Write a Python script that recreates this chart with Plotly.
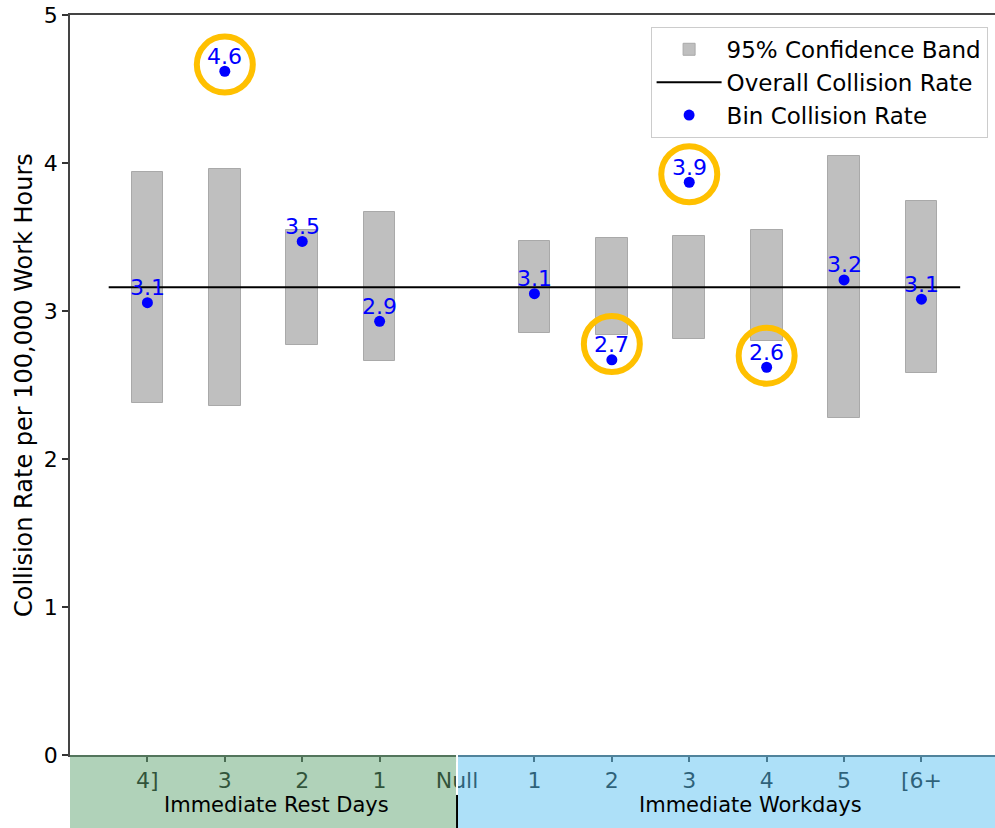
import plotly.graph_objects as go

# ---- data ----
categories = ["4]", "3", "2", "1", "Null", "1", "2", "3", "4", "5", "[6+"]
ci_lower = [2.38, 2.36, 2.77, 2.66, None, 2.85, 2.84, 2.81, 2.80, 2.28, 2.58]
ci_upper = [3.94, 3.96, 3.55, 3.67, None, 3.47, 3.49, 3.51, 3.55, 4.05, 3.74]
bin_rate = [3.056, 4.62, 3.47, 2.93, None, 3.117, 2.67, 3.87, 2.62, 3.21, 3.08]
overall_rate = 3.16
highlight_idx = [1, 6, 7, 8]
highlight_center = [4.665, 2.777, 3.924, 2.698]
group_labels = ["Immediate Rest Days", "Immediate Workdays"]
group_label_pos = [1.67, 7.79]
null_index = 4
y_ticks = [0, 1, 2, 3, 4, 5]

FONT = "DejaVu Sans"
xs = list(range(len(categories)))
valid = [i for i in xs if bin_rate[i] is not None]

fig = go.Figure()

# confidence bands
fig.add_trace(go.Bar(
    x=[xs[i] for i in valid],
    y=[ci_upper[i] - ci_lower[i] for i in valid],
    base=[ci_lower[i] for i in valid],
    width=0.41,
    marker=dict(color="#bfbfbf", line=dict(color="#a9a9a9", width=1)),
    name="95% Confidence Band",
    hoverinfo="skip",
))

# highlight circles
fig.add_trace(go.Scatter(
    x=highlight_idx, y=highlight_center, mode="markers",
    marker=dict(symbol="circle-open", size=56, color="#FFC000",
                line=dict(width=6, color="#FFC000")),
    showlegend=False, hoverinfo="skip",
))

# overall line
fig.add_trace(go.Scatter(
    x=[xs[0] - 0.5, xs[-1] + 0.5], y=[overall_rate, overall_rate],
    mode="lines", line=dict(color="black", width=2),
    name="Overall Collision Rate",
))

# bin points
fig.add_trace(go.Scatter(
    x=[xs[i] for i in valid], y=[bin_rate[i] for i in valid],
    mode="markers", marker=dict(color="blue", size=11),
    name="Bin Collision Rate",
))

annotations = []
for i in valid:
    annotations.append(dict(
        x=xs[i], y=bin_rate[i], xref="x", yref="y", yshift=15,
        text=f"{bin_rate[i]:.1f}", showarrow=False,
        font=dict(family=FONT, size=22, color="blue"),
    ))

# y title
annotations.append(dict(
    x=-0.0497, y=0.5, xref="paper", yref="paper", textangle=-90,
    text="Collision Rate per 100,000 Work Hours", showarrow=False,
    xanchor="center", yanchor="middle",
    font=dict(family=FONT, size=24, color="black"),
))

# group labels
for lab, pos in zip(group_labels, group_label_pos):
    annotations.append(dict(
        x=pos, y=-0.0676, xref="x", yref="paper", text=lab, showarrow=False,
        xanchor="center", yanchor="middle",
        font=dict(family=FONT, size=21, color="black"),
    ))

xmin, xmax = -1.0, 10.95


def px(v):
    return (v - xmin) / (xmax - xmin)


shapes = [
    dict(type="rect", xref="paper", yref="paper", x0=0, x1=px(null_index) - 0.0009,
         y0=-0.1, y1=0, fillcolor="rgb(97,165,115)", opacity=0.5,
         line=dict(width=0), layer="above"),
    dict(type="rect", xref="paper", yref="paper", x0=px(null_index) + 0.0009, x1=1.0,
         y0=-0.1, y1=0, fillcolor="rgb(91,193,241)", opacity=0.5,
         line=dict(width=0), layer="above"),
    dict(type="line", xref="paper", yref="paper", x0=px(null_index), x1=px(null_index),
         y0=-0.054, y1=0, line=dict(color="white", width=2), layer="above"),
    dict(type="line", xref="paper", yref="paper", x0=px(null_index), x1=px(null_index),
         y0=-0.1, y1=-0.054, line=dict(color="black", width=2), layer="above"),
]

fig.update_layout(
    width=995, height=828,
    margin=dict(l=70, r=0, t=15, b=73),
    paper_bgcolor="white", plot_bgcolor="white",
    font=dict(family=FONT, color="black"),
    showlegend=True,
    legend=dict(
        x=0.992, y=0.984, xanchor="right", yanchor="top",
        bgcolor="rgba(255,255,255,0.85)", bordercolor="#cccccc", borderwidth=1,
        font=dict(family=FONT, size=23, color="black"),
        traceorder="normal", itemwidth=65,
    ),
    annotations=annotations,
    shapes=shapes,
    bargap=0,
)

fig.update_xaxes(
    range=[xmin, xmax], tickmode="array", tickvals=xs, ticktext=categories,
    showgrid=False, zeroline=False, showline=True, mirror=True,
    linecolor="#444444", linewidth=1.5,
    ticks="outside", ticklen=5, tickwidth=1.5, tickcolor="#333333",
    tickfont=dict(family=FONT, size=22, color="black"),
)
fig.update_yaxes(
    range=[0, 5], tickmode="array", tickvals=y_ticks,
    ticktext=[str(t) for t in y_ticks],
    showgrid=False, zeroline=False, showline=True,
    linecolor="#444444", linewidth=1.5,
    ticks="outside", ticklen=6, tickwidth=1.5, tickcolor="#333333",
    tickfont=dict(family=FONT, size=22, color="black"),
)

fig.write_html("out.html", config={"displayModeBar": False},
               post_script="document.body.style.margin='0';")
